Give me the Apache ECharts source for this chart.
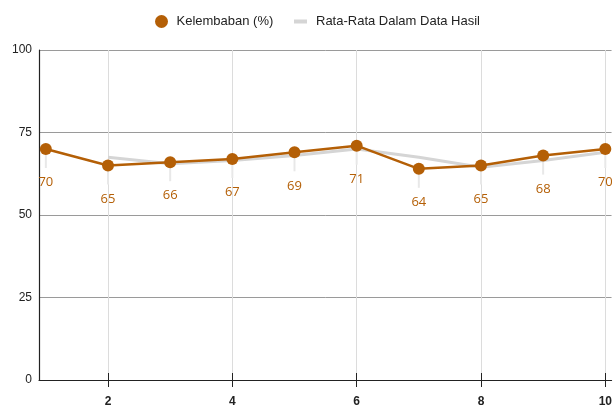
<!DOCTYPE html>
<html>
<head>
<meta charset="utf-8">
<script src="https://cdn.jsdelivr.net/npm/echarts@6/dist/echarts.min.js"></script>
<style>
  html, body { margin: 0; padding: 0; background: #fff; }
  #chart { width: 615px; height: 414px; }
</style>
</head>
<body>
<div id="chart"></div>
<script>
// Humidity readings per run and their two-point running average
const runs = [1, 2, 3, 4, 5, 6, 7, 8, 9, 10];
const humidity = [70, 65, 66, 67, 69, 71, 64, 65, 68, 70];
const averageRuns = [2, 3, 4, 5, 6, 7, 8, 9, 10];
const averageValues = [67.5, 65.5, 66.5, 68, 70, 67.5, 64.5, 66.5, 69];
const xTickValues = [2, 4, 6, 8, 10];
const yTicks = [0, 25, 50, 75, 100];

const humidityName = 'Kelembaban (%)';
const averageName = 'Rata-Rata Dalam Data Hasil';
const brown = '#b45f06';

const chart = echarts.init(document.getElementById('chart'), null, { renderer: 'canvas' });

// Short faint guide line under each humidity point, pointing at its value label
function renderGuide(params, api) {
  const p = api.coord([api.value(0), api.value(1)]);
  return {
    type: 'line',
    shape: { x1: p[0], y1: p[1] + 4, x2: p[0], y2: p[1] + 19 },
    style: { stroke: '#e8e8e8', lineWidth: 2 },
    silent: true
  };
}

chart.setOption({
  animation: false,
  backgroundColor: '#ffffff',
  legend: [
    {
      data: [{ name: humidityName, icon: 'circle' }],
      left: 150, top: 10,
      itemWidth: 20, itemHeight: 13,
      textStyle: { fontFamily: 'Liberation Sans, Arial, sans-serif', fontSize: 13, color: '#222' }
    },
    {
      data: [{ name: averageName, icon: 'rect' }],
      left: 289, top: 10,
      itemWidth: 13, itemHeight: 4,
      textStyle: { fontFamily: 'Liberation Sans, Arial, sans-serif', fontSize: 13, color: '#222', padding: [0, 0, 0, 4] }
    }
  ],
  grid: { left: 39, right: 0, top: 50, bottom: 34, containLabel: false },
  xAxis: [
    {
      type: 'value',
      min: 0.89, max: 10.1,
      axisLine: { show: true, lineStyle: { color: '#222', width: 1.2 } },
      axisTick: { show: true, length: 7, customValues: xTickValues, lineStyle: { color: '#222' } },
      axisLabel: {
        customValues: xTickValues, margin: 16,
        fontFamily: 'Liberation Sans, Arial, sans-serif', fontSize: 12, fontWeight: 'bold', color: '#222'
      },
      splitLine: { show: true, lineStyle: { color: '#dcdcdc', width: 1 } }
    },
    {
      type: 'value', position: 'bottom', offset: 0,
      min: 0.89, max: 10.1,
      axisLine: { show: false },
      axisTick: { show: true, inside: true, length: 7, customValues: xTickValues, lineStyle: { color: '#222' } },
      axisLabel: { show: false },
      splitLine: { show: false }
    }
  ],
  yAxis: {
    type: 'value',
    min: yTicks[0], max: yTicks[yTicks.length - 1], interval: 25,
    axisLine: { show: true, lineStyle: { color: '#222', width: 1.2 } },
    axisTick: { show: false },
    axisLabel: { margin: 7, fontFamily: 'Liberation Sans, Arial, sans-serif', fontSize: 12, color: '#222' },
    splitLine: { show: true, lineStyle: { color: '#9a9a9a', width: 1 } }
  },
  series: [
    {
      name: 'guides',
      type: 'custom',
      data: runs.map((x, i) => [x, humidity[i]]),
      renderItem: renderGuide,
      silent: true,
      z: 1
    },
    {
      name: averageName,
      type: 'line',
      data: averageRuns.map((x, i) => [x, averageValues[i]]),
      showSymbol: false,
      symbol: 'none',
      color: '#d5d5d5',
      lineStyle: { color: '#d5d5d5', width: 3 },
      z: 2
    },
    {
      name: humidityName,
      type: 'line',
      data: runs.map((x, i) => [x, humidity[i]]),
      symbol: 'circle',
      symbolSize: 12,
      color: brown,
      itemStyle: { color: brown },
      lineStyle: { color: brown, width: 2.5 },
      label: {
        show: true, position: 'bottom', distance: 2,
        fontFamily: 'Open Sans, Noto Sans, sans-serif', fontSize: 13, color: brown
      },
      labelLayout: { dy: 19 },
      z: 3
    }
  ]
});
</script>
</body>
</html>
